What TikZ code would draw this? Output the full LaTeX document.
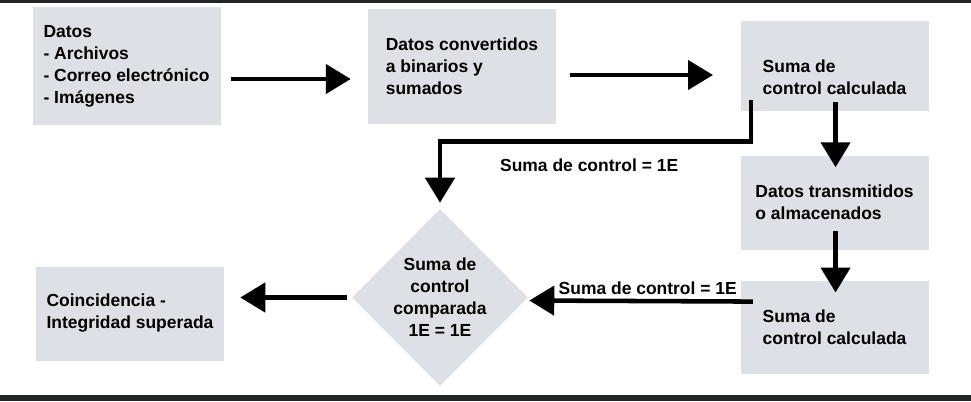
\documentclass[tikz,border=0pt]{standalone}
\usepackage{fontspec}
\setmainfont{Liberation Sans}
\usetikzlibrary{positioning, arrows.meta, shapes.geometric, calc}

\definecolor{boxgray}{RGB}{221,224,228}
\definecolor{bandgray}{RGB}{36,37,38}

\begin{document}
\begin{tikzpicture}[
		x=0.75pt, y=-0.75pt,
		% Style for the process boxes
		procbox/.style={
			fill=boxgray, draw=none, minimum width=141pt, align=left,
			font=\fontsize{13.1}{16.5}\selectfont\bfseries
		},
		% Style for the comparison diamond
		checkbox/.style={
			diamond, fill=boxgray, draw=none, inner sep=0pt,
			minimum width=132pt, minimum height=132.75pt, align=center,
			font=\fontsize{13.1}{16.5}\selectfont\bfseries
		},
		% Style for the thick arrows
		flow/.style={
			line width=3.4pt, -{Triangle[length=18.75pt, width=21.75pt]}
		},
		% Style for the arrow labels
		flow_label/.style={
			font=\fontsize{13.1}{16.5}\selectfont\bfseries
		}
		]
		
		% Frame bands and page size
		\useasboundingbox (0,0) rectangle (971,401);
		\fill[bandgray] (0,0) rectangle (971,3);
		\fill[bandgray] (0,395) rectangle (971,401);
		
		% ==========================================
		% 1. TOP ROW: data, conversion, checksum
		% ==========================================
		\node[procbox, minimum height=88.5pt] (data) at (126.5,66) {
			Datos\\- Archivos\\- Correo electrónico\\- Imágenes
		};
		\node[procbox, minimum height=86.25pt, right=110.25pt of data] (conv) {
			Datos convertidos\\a binarios y\\sumados
		};
		\node[procbox, minimum height=67.5pt, right=138pt of conv] (calc1) {
			\rule{0pt}{26pt}Suma de\\control calculada
		};
		
		\draw[flow] ($(data.east)+(10.7,13)$) -- ($(conv.west)+(-17,13)$);
		\draw[flow] ($(conv.east)+(14,9)$) -- ($(calc1.west)+(-27.3,9)$);
		
		% ==========================================
		% 2. RIGHT COLUMN: transfer and second checksum
		% ==========================================
		\node[procbox, minimum height=70.5pt, below=33pt of calc1] (trans) {
			Datos transmitidos\\o almacenados
		};
		\node[procbox, minimum height=69.75pt, below=23.25pt of trans] (calc2) {
			Suma de\\control calculada
		};
		
		\draw[flow] ($(calc1.south)+(1,-9.3)$) -- ($(trans.north)+(1,12)$);
		\draw[flow] ($(trans.south)+(1,-19)$) -- ($(calc2.north)+(1,11.7)$);
		
		% ==========================================
		% 3. BOTTOM ROW: comparison and result
		% ==========================================
		\node[checkbox] (cmp) at (440,297.5) {
			Suma de\\control\\comparada\\1E = 1E
		};
		\node[procbox, minimum height=70.5pt] (match) at (130,313.5) {
			Coincidencia -\\Integridad superada
		};
		
		% First checksum sent to the comparison
		\draw[flow] ($(calc1.south west)+(10.5,-11)$) -- ++(0,41)
		-| node[flow_label, pos=0.26, below=8pt] {Suma de control = 1E} ($(cmp.north)+(0,-6)$);
		
		% Second checksum sent to the comparison
		\draw[flow] ($(calc2.west)+(12.5,-26)$) -- ($(cmp.east)+(1,3)$)
		node[flow_label, pos=0.47, above=0pt] {Suma de control = 1E};
		
		\draw[flow] ($(cmp.west)+(-5,0)$) -- ($(match.east)+(16,-16)$);
		
	\end{tikzpicture}
\end{document}
